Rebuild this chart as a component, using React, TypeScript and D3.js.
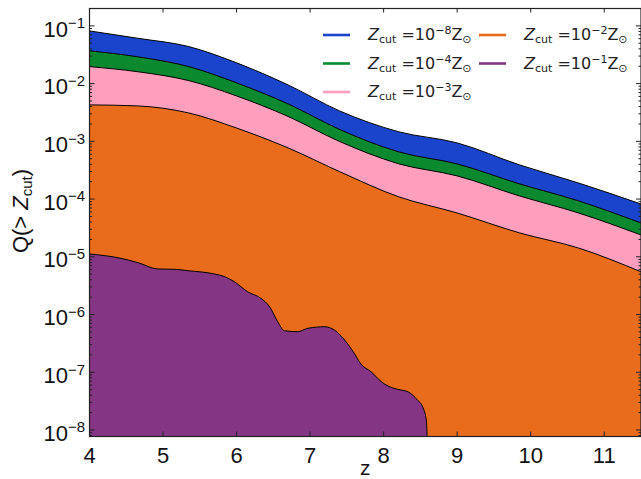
import React from "react";
import * as d3 from "d3";

const W = 641;
const H = 479;

// redshift samples of the four smooth cumulative curves
const zSmooth = [4.0, 4.65, 5.35, 6.0, 6.7, 7.4, 8.2, 9.0, 9.85, 10.65, 11.5];
const qBlue = [0.0818, 0.0612, 0.0438, 0.0229, 0.0095, 0.00337, 0.00147, 0.00094, 0.00039, 0.00019, 0.000082];
const qGreen = [0.0369, 0.0292, 0.0197, 0.0103, 0.00445, 0.00161, 0.00066, 0.000406, 0.000183, 0.000093, 0.0000385];
const qPink = [0.0197, 0.0161, 0.01127, 0.00612, 0.0027, 0.000995, 0.00041, 0.000252, 0.000113, 0.0000575, 0.0000239];
const qOrange = [0.00428, 0.00411, 0.0031, 0.0017, 0.00077, 0.000299, 0.00011, 0.0000574, 0.0000259, 0.0000142, 0.0000055];

// the 10^-1 curve is noisy and ends near z=8.6
const zPurple = [4.0, 4.43, 4.66, 4.93, 5.16, 5.34, 5.7, 5.84, 5.97, 6.15, 6.33, 6.45, 6.56, 6.65, 6.83, 6.97, 7.2, 7.33, 7.47, 7.6, 7.69, 7.83, 7.97, 8.06, 8.19, 8.33, 8.46, 8.53, 8.58, 8.61];
const qPurple = [1.12e-5, 9.4e-6, 7.9e-6, 6.15e-6, 6.07e-6, 5.74e-6, 5.04e-6, 4.52e-6, 3.7e-6, 2.48e-6, 1.91e-6, 1.36e-6, 7.5e-7, 5.24e-7, 5.04e-7, 5.77e-7, 6.15e-7, 5.38e-7, 3.61e-7, 2.13e-7, 1.39e-7, 1.02e-7, 6.84e-8, 5.77e-8, 5.06e-8, 4.59e-8, 3.3e-8, 2.52e-8, 1.49e-8, 1e-9];

const seriesExp = ["−8", "−4", "−3", "−2", "−1"];
const seriesColors = ["#1a44cc", "#0a892f", "#ff9ebd", "#e86c1b", "#843583"];
const xTicks = [4, 5, 6, 7, 8, 9, 10, 11];
const yExps = [-1, -2, -3, -4, -5, -6, -7, -8];

export default function App() {
  const left = 89.5, right = 641, top = 8.5, bottom = 436.5;
  const x = d3.scaleLinear().domain([4, 11.5]).range([left, right]);
  const y = d3.scaleLog().domain([7.71e-9, 0.2]).range([bottom, top]);

  const series = [
    { z: zSmooth, q: qBlue, c: seriesColors[0] },
    { z: zSmooth, q: qGreen, c: seriesColors[1] },
    { z: zSmooth, q: qPink, c: seriesColors[2] },
    { z: zSmooth, q: qOrange, c: seriesColors[3] },
    { z: zPurple, q: qPurple, c: seriesColors[4] },
  ];

  const area = d3
    .area<[number, number]>()
    .x((d) => x(d[0]))
    .y0(bottom + 5)
    .y1((d) => y(d[1]))
    .curve(d3.curveMonotoneX);
  const line = d3
    .line<[number, number]>()
    .x((d) => x(d[0]))
    .y((d) => y(d[1]))
    .curve(d3.curveMonotoneX);

  const minor: number[] = [];
  for (let e = -9; e <= 0; e++) {
    for (let k = 2; k <= 9; k++) {
      const v = k * Math.pow(10, e);
      if (v > 7.71e-9 && v < 0.2) minor.push(v);
    }
  }

  const tickFont = "Liberation Sans, Arial, sans-serif";
  const legFont = "DejaVu Sans, sans-serif";

  const legendPos = [
    { lx: 323, tx: 368, yy: 35 },
    { lx: 323, tx: 368, yy: 63.5 },
    { lx: 323, tx: 368, yy: 92 },
    { lx: 479, tx: 524, yy: 35 },
    { lx: 479, tx: 524, yy: 63.5 },
  ];

  return (
    <svg width={W} height={H} style={{ position: "absolute", left: 0, top: 0 }}>
      <rect x={0} y={0} width={W} height={H} fill="#fff" />
      <defs>
        <clipPath id="plot">
          <rect x={left} y={top} width={right - left} height={bottom - top} />
        </clipPath>
      </defs>
      <g clipPath="url(#plot)">
        {series.map((s, i) => {
          const pts = s.z.map((z, j) => [z, s.q[j]] as [number, number]);
          return (
            <g key={i}>
              <path d={area(pts) || ""} fill={s.c} />
              <path d={line(pts) || ""} fill="none" stroke="#000" strokeWidth={1} />
            </g>
          );
        })}
      </g>

      {/* spines */}
      <rect x={left} y={top} width={right - left} height={bottom - top} fill="none" stroke="#222" strokeWidth={1.2} />

      {/* y ticks */}
      {yExps.map((e) => {
        const yy = y(Math.pow(10, e));
        return (
          <g key={e}>
            <line x1={left} x2={left + 5} y1={yy} y2={yy} stroke="#222" />
            <line x1={right} x2={right - 5} y1={yy} y2={yy} stroke="#222" />
            <text x={85} y={yy + 10.7} textAnchor="end" fontFamily={tickFont} fontSize={22} fill="#111">
              10
              <tspan fontSize={15} dy={-8.4}>{"−" + String(-e)}</tspan>
            </text>
          </g>
        );
      })}
      {minor.map((v, i) => {
        const yy = y(v);
        return (
          <g key={"m" + i}>
            <line x1={left} x2={left + 2.5} y1={yy} y2={yy} stroke="#222" />
            <line x1={right} x2={right - 2.5} y1={yy} y2={yy} stroke="#222" />
          </g>
        );
      })}

      {/* x ticks */}
      {xTicks.map((t) => (
        <g key={t}>
          <line x1={x(t)} x2={x(t)} y1={bottom} y2={bottom - 5} stroke="#222" />
          <line x1={x(t)} x2={x(t)} y1={top} y2={top + 4} stroke="#222" />
          <text x={x(t)} y={462.6} textAnchor="middle" fontFamily={tickFont} fontSize={22} fill="#111">
            {t}
          </text>
        </g>
      ))}

      {/* axis labels */}
      <text x={(left + right) / 2} y={475} textAnchor="middle" fontFamily={tickFont} fontSize={21} fill="#111">
        z
      </text>
      <text
        transform="translate(28,211) rotate(-90)"
        textAnchor="middle"
        fontFamily={tickFont}
        fontSize={22}
        fill="#111"
      >
        Q(&gt; <tspan fontStyle="italic">Z</tspan>
        <tspan fontSize={15} dy={4}>cut</tspan>
        <tspan dy={-4}>)</tspan>
      </text>

      {/* legend */}
      {legendPos.map((p, i) => (
        <g key={"l" + i}>
          <line x1={p.lx} x2={p.lx + 27} y1={p.yy} y2={p.yy} stroke={seriesColors[i]} strokeWidth={2.6} />
          <text x={p.tx} y={p.yy + 5} fontFamily={legFont} fontSize={16} fill="#222">
            <tspan fontStyle="italic">Z</tspan>
            <tspan fontSize={11} dy={3}>cut</tspan>
            <tspan dy={-3}> =10</tspan>
            <tspan fontSize={11} dy={-6}>{seriesExp[i]}</tspan>
            <tspan dy={6}>Z</tspan>
            <tspan fontSize={11} dy={3}>⊙</tspan>
          </text>
        </g>
      ))}
    </svg>
  );
}
